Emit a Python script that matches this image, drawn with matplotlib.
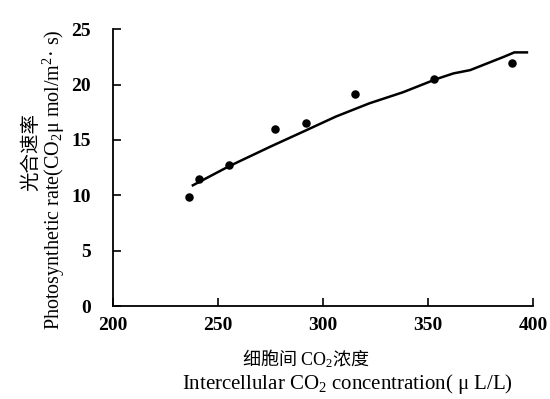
import matplotlib.pyplot as plt

plt.rcParams['mathtext.fontset'] = 'custom'
plt.rcParams['mathtext.rm'] = 'Liberation Serif'
plt.rcParams['mathtext.it'] = 'Liberation Serif:italic'

# measured points
co2_pts = [236, 241, 255, 277, 292, 315, 353, 390]
rate_pts = [9.8, 11.5, 12.7, 16.0, 16.5, 19.1, 20.5, 21.9]

# fitted curve (hand-traced)
co2_line = [238, 255, 275, 290, 306, 322, 338, 354, 362, 370, 378, 386, 391, 397]
rate_line = [10.9, 12.6, 14.4, 15.7, 17.1, 18.3, 19.3, 20.5, 21.0, 21.3, 21.9, 22.5, 22.9, 22.9]

xticks = [200, 250, 300, 350, 400]
yticks = [0, 5, 10, 15, 20, 25]

serif = ['Liberation Serif', 'Noto Sans CJK SC']
cjk = ['Noto Sans CJK SC', 'DejaVu Sans']

fig = plt.figure(figsize=(5.5, 3.99), dpi=100)
ax = fig.add_axes([0.2055, 0.233, 0.764, 0.694])

ax.plot(co2_line, rate_line, color='black', lw=1.8)
ax.scatter(co2_pts, rate_pts, s=26, color='black', zorder=3)

ax.set_xlim(200, 400)
ax.set_ylim(0, 25)
ax.set_xticks(xticks)
ax.set_yticks(yticks)
ax.spines['top'].set_visible(False)
ax.spines['right'].set_visible(False)
ax.spines['left'].set_linewidth(1.3)
ax.spines['bottom'].set_linewidth(1.3)
ax.tick_params(direction='in', length=6, width=1.2, labelsize=14)
ax.tick_params(axis='x', pad=8)
ax.tick_params(axis='y', pad=16)
for lab in ax.get_xticklabels() + ax.get_yticklabels():
    lab.set_family(serif)
    lab.set_fontweight('bold')

fig.text(0.055, 0.62, '光合速率', rotation=90, ha='center', va='center',
         family=cjk, fontsize=14)
fig.text(0.098, 0.55, 'Photosynthetic rate(CO$_2$μ mol/m$^2$· s)', rotation=90,
         ha='center', va='center', family=serif, fontsize=14.5)
fig.text(0.556, 0.102, '细胞间 $\\mathrm{CO_2}$浓度', ha='center', va='center',
         family=cjk, fontsize=13)
fig.text(0.632, 0.037, 'Intercellular CO$_2$ concentration( μ L/L)', ha='center',
         va='center', family=serif, fontsize=15)

fig.savefig('out.png', dpi=100)
